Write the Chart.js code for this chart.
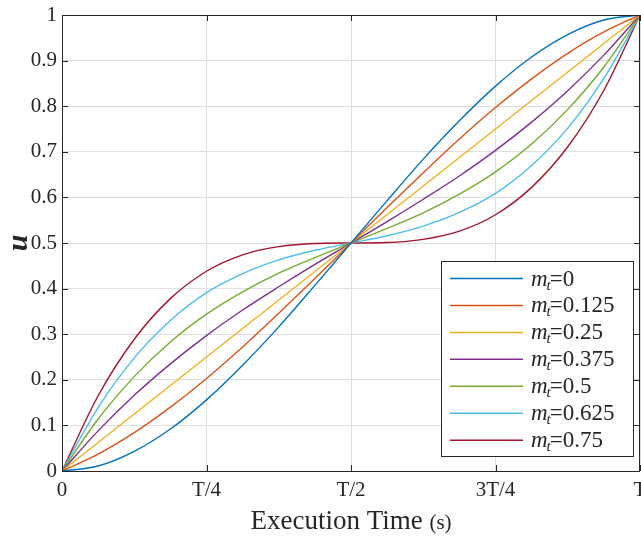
<!DOCTYPE html>
<html>
<head>
<meta charset="utf-8">
<title>u vs execution time</title>
<script src="https://cdn.jsdelivr.net/npm/chart.js@4.4.0/dist/chart.umd.min.js"></script>
<style>
  html, body { margin: 0; padding: 0; background: #fff; }
  #wrap { width: 641px; height: 538px; }
</style>
</head>
<body>
<div id="wrap"><canvas id="uChart" width="641" height="538"></canvas></div>
<script>
// normalised execution time t/T, sampled every T/16
const tPoints = [0, 0.0625, 0.125, 0.1875, 0.25, 0.3125, 0.375, 0.4375, 0.5,
                 0.5625, 0.625, 0.6875, 0.75, 0.8125, 0.875, 0.9375, 1];

// u for each m_t
const uM0    = [0, 0.011, 0.043, 0.092, 0.156, 0.232, 0.316, 0.407, 0.5, 0.593, 0.684, 0.768, 0.844, 0.908, 0.957, 0.989, 1];
const uM0125 = [0, 0.037, 0.084, 0.140, 0.203, 0.272, 0.346, 0.422, 0.5, 0.578, 0.654, 0.728, 0.797, 0.860, 0.916, 0.963, 1];
const uM025  = [0, 0.0625, 0.125, 0.1875, 0.25, 0.3125, 0.375, 0.4375, 0.5, 0.5625, 0.625, 0.6875, 0.75, 0.8125, 0.875, 0.9375, 1];
const uM0375 = [0, 0.088, 0.166, 0.235, 0.297, 0.353, 0.404, 0.453, 0.5, 0.547, 0.596, 0.647, 0.703, 0.765, 0.834, 0.912, 1];
const uM05   = [0, 0.114, 0.207, 0.283, 0.344, 0.393, 0.434, 0.468, 0.5, 0.532, 0.566, 0.607, 0.656, 0.717, 0.793, 0.886, 1];
const uM0625 = [0, 0.139, 0.248, 0.330, 0.391, 0.433, 0.463, 0.484, 0.5, 0.516, 0.537, 0.567, 0.609, 0.670, 0.752, 0.861, 1];
const uM075  = [0, 0.165, 0.289, 0.378, 0.438, 0.474, 0.492, 0.499, 0.5, 0.501, 0.508, 0.526, 0.562, 0.622, 0.711, 0.835, 1];

const seriesValues = [uM0, uM0125, uM025, uM0375, uM05, uM0625, uM075];
const seriesLabels = ['0', '0.125', '0.25', '0.375', '0.5', '0.625', '0.75'];
const seriesColors = ['#0072BD', '#D95319', '#EDB120', '#7E2F8E', '#77AC30', '#4DBEEE', '#A2142F'];

const xTickLabels = ['0', 'T/4', 'T/2', '3T/4', 'T'];
const yTickLabels = ['0', '0.1', '0.2', '0.3', '0.4', '0.5', '0.6', '0.7', '0.8', '0.9', '1'];

const SERIF = '"Liberation Serif", "Times New Roman", serif';
const AXIS_COLOR = '#262626';

/**
 * Cadre complet + graduations vers l'intérieur (style MATLAB, box on)
 */
const boxPlugin = {
    id: 'boxTicks',
    afterDatasetsDraw(chart) {
        const { ctx, chartArea: a, scales } = chart;
        const len = 6;
        ctx.save();
        ctx.strokeStyle = AXIS_COLOR;
        ctx.lineWidth = 1;
        ctx.beginPath();
        scales.x.ticks.forEach(t => {
            const px = Math.round(scales.x.getPixelForValue(t.value)) + 0.5;
            ctx.moveTo(px, a.bottom); ctx.lineTo(px, a.bottom - len);
            ctx.moveTo(px, a.top); ctx.lineTo(px, a.top + len);
        });
        scales.y.ticks.forEach(t => {
            const py = Math.round(scales.y.getPixelForValue(t.value)) + 0.5;
            ctx.moveTo(a.left, py); ctx.lineTo(a.left + len, py);
            ctx.moveTo(a.right, py); ctx.lineTo(a.right - len, py);
        });
        ctx.stroke();
        ctx.strokeRect(Math.round(a.left) + 0.5, Math.round(a.top) + 0.5,
                       Math.round(a.right - a.left) - 1, Math.round(a.bottom - a.top));
        ctx.restore();
    }
};

/**
 * Titres des axes : "u" en italique, "Execution Time (s)" en deux tailles
 */
const titlesPlugin = {
    id: 'axisTitles',
    afterDraw(chart) {
        const { ctx, chartArea: a } = chart;
        ctx.save();
        ctx.fillStyle = AXIS_COLOR;
        ctx.textBaseline = 'alphabetic';

        const big = '27px ' + SERIF;
        const small = '21px ' + SERIF;
        ctx.font = big;
        const w1 = ctx.measureText('Execution Time ').width;
        ctx.font = small;
        const w2 = ctx.measureText('(s)').width;
        const x0 = (a.left + a.right) / 2 - (w1 + w2) / 2;
        ctx.font = big;
        ctx.textAlign = 'left';
        ctx.fillText('Execution Time ', x0, 529);
        ctx.font = small;
        ctx.fillText('(s)', x0 + w1, 529);

        ctx.translate(27, (a.top + a.bottom) / 2);
        ctx.rotate(-Math.PI / 2);
        ctx.font = 'italic bold 30px ' + SERIF;
        ctx.textAlign = 'center';
        ctx.fillText('u', 0, 0);
        ctx.restore();
    }
};

/**
 * Légende avec indice m_t
 */
const legendPlugin = {
    id: 'mtLegend',
    afterDraw(chart) {
        const { ctx } = chart;
        const box = { x: 441.5, y: 261.5, w: 192, h: 195 };
        ctx.save();
        ctx.fillStyle = '#fff';
        ctx.fillRect(box.x, box.y, box.w, box.h);
        ctx.strokeStyle = AXIS_COLOR;
        ctx.lineWidth = 1;
        ctx.strokeRect(box.x, box.y, box.w, box.h);

        chart.data.datasets.forEach((ds, i) => {
            const cy = 278.5 + i * 26.95;
            ctx.strokeStyle = ds.borderColor;
            ctx.lineWidth = 1.5;
            ctx.beginPath();
            ctx.moveTo(450, cy);
            ctx.lineTo(523, cy);
            ctx.stroke();

            ctx.fillStyle = AXIS_COLOR;
            ctx.textAlign = 'left';
            ctx.textBaseline = 'alphabetic';
            let x = 531;
            const base = cy + 7;
            ctx.font = 'italic 23px ' + SERIF;
            ctx.fillText('m', x, base);
            x += ctx.measureText('m').width;
            ctx.font = 'italic 15px ' + SERIF;
            ctx.fillText('t', x - 1, base + 4);
            x += ctx.measureText('t').width - 2;
            ctx.font = '23px ' + SERIF;
            ctx.fillText('=' + ds.label, x, base);
        });
        ctx.restore();
    }
};

const datasets = seriesValues.map((vals, i) => ({
    label: seriesLabels[i],
    data: tPoints.map((t, k) => ({ x: t, y: vals[k] })),
    borderColor: seriesColors[i],
    backgroundColor: seriesColors[i],
    borderWidth: 1.4,
    pointRadius: 0,
    fill: false,
    cubicInterpolationMode: 'monotone'
}));

new Chart(document.getElementById('uChart'), {
    type: 'line',
    data: { datasets: datasets },
    options: {
        responsive: false,
        animation: false,
        devicePixelRatio: 1,
        layout: { padding: { top: 15, right: 1, left: 0, bottom: 0 } },
        plugins: {
            legend: { display: false },
            tooltip: { enabled: false }
        },
        scales: {
            x: {
                type: 'linear',
                min: 0,
                max: 1,
                ticks: {
                    stepSize: 0.25,
                    color: AXIS_COLOR,
                    font: { family: SERIF, size: 21 },
                    padding: 7,
                    maxRotation: 0,
                    callback: (v, i) => xTickLabels[i]
                },
                grid: { color: '#dedede', drawTicks: false },
                border: { display: false },
                afterFit(scale) {
                    scale.height = 67;
                    scale.paddingLeft = 0;
                    scale.paddingRight = 0;
                }
            },
            y: {
                min: 0,
                max: 1,
                ticks: {
                    stepSize: 0.1,
                    color: AXIS_COLOR,
                    font: { family: SERIF, size: 21 },
                    padding: 5,
                    callback: (v, i) => yTickLabels[i]
                },
                grid: { color: '#dedede', drawTicks: false },
                border: { display: false },
                afterFit(scale) {
                    scale.width = 62;
                    scale.paddingTop = 0;
                    scale.paddingBottom = 0;
                }
            }
        }
    },
    plugins: [boxPlugin, titlesPlugin, legendPlugin]
});
</script>
</body>
</html>
